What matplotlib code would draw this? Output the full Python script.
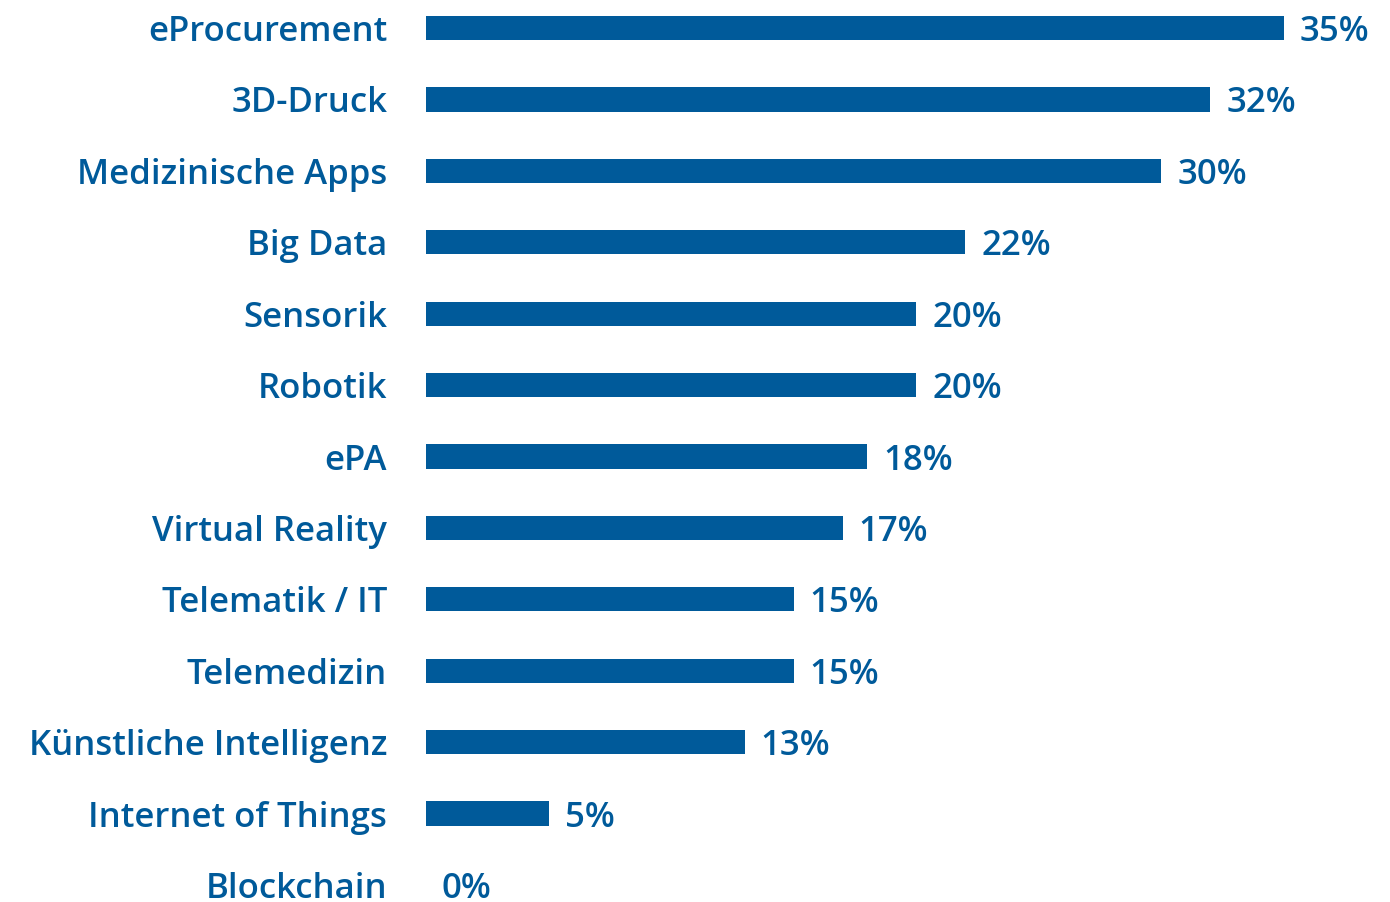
import matplotlib
matplotlib.use("Agg")
import matplotlib.pyplot as plt

categories = [
    "eProcurement", "3D-Druck", "Medizinische Apps", "Big Data", "Sensorik",
    "Robotik", "ePA", "Virtual Reality", "Telematik / IT", "Telemedizin",
    "Künstliche Intelligenz", "Internet of Things", "Blockchain",
]
values = [35, 32, 30, 22, 20, 20, 18, 17, 15, 15, 13, 5, 0]

BLUE = "#005A9A"
FONT = "Open Sans"
FS = 25

W, H = 1390, 902
fig = plt.figure(figsize=(W / 100, H / 100), dpi=100)
left_px, right_px = 426, 1284
ax = fig.add_axes([left_px / W, 0, (right_px - left_px) / W, 1])

ypos = list(range(len(categories)))
ax.barh(ypos, values, height=0.34, color=BLUE, edgecolor="none")

step = (885 - 28) / 12
ax.set_ylim(12 + (H - 885) / step, -28 / step)
ax.set_xlim(0, 35)

ax.set_yticks(ypos)
ax.set_yticklabels(categories, fontsize=FS, fontweight="semibold",
                   color=BLUE, family=FONT, va="center_baseline")
ax.tick_params(axis="y", length=0, pad=28)
ax.set_xticks([])
for s in ax.spines.values():
    s.set_visible(False)

for y, v in zip(ypos, values):
    ax.annotate(f"{v}%", xy=(v, y), xytext=(11.5, 0), textcoords="offset points",
                ha="left", va="center_baseline", fontsize=FS, fontweight="semibold",
                color=BLUE, family=FONT, annotation_clip=False)

fig.savefig("out.png", dpi=100)
